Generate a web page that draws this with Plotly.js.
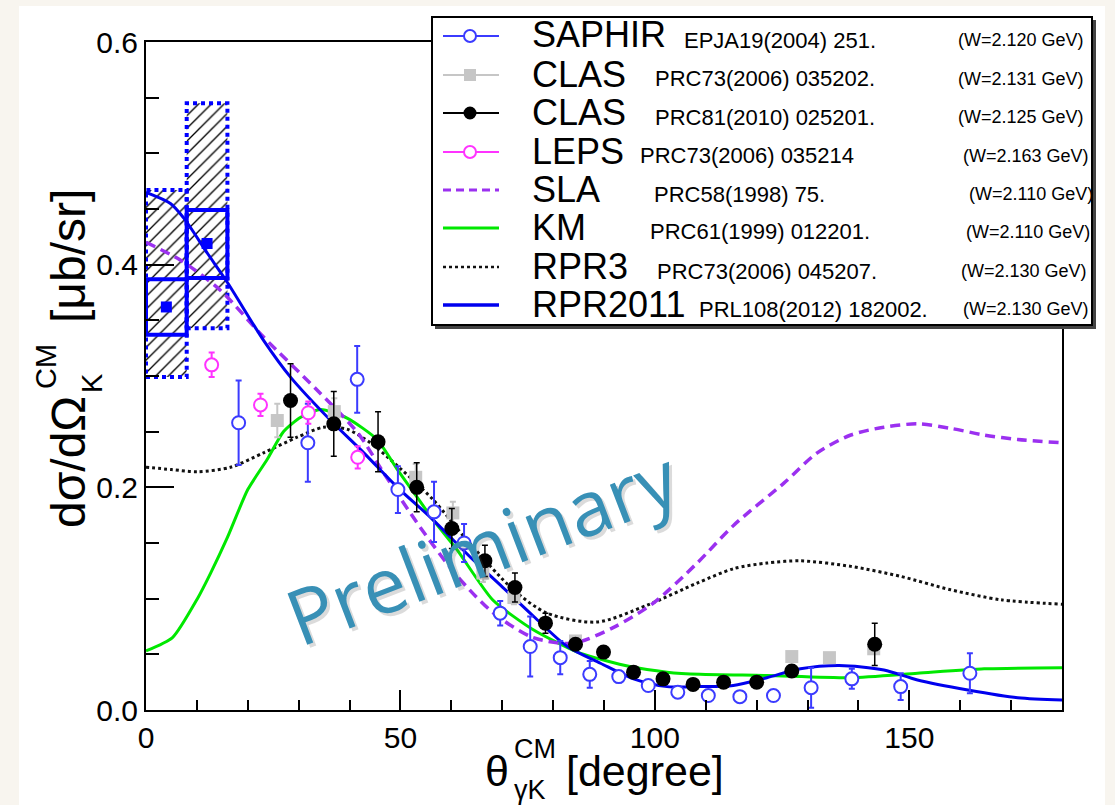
<!DOCTYPE html>
<html><head><meta charset="utf-8">
<script src="https://cdn.plot.ly/plotly-3.0.1.min.js"></script>
<style>
html,body{margin:0;padding:0;background:#f8f5ef;width:1115px;height:805px;overflow:hidden;}
#chart{position:absolute;left:19px;top:6px;width:1086px;height:799px;background:#fff;}
</style></head><body><div id="chart"></div>
<script>
// ---------------- data ----------------
const saphirX = [18.2, 31.8, 41.5, 49.5, 56.6, 62.5, 69.6, 75.5, 81.4, 87.2, 92.9, 98.7, 104.5, 110.5, 116.7, 123.3, 130.7, 138.7, 148.3, 161.9];
const saphirY = [0.258, 0.240, 0.297, 0.198, 0.178, 0.150, 0.087, 0.057, 0.047, 0.032, 0.030, 0.022, 0.016, 0.013, 0.012, 0.013, 0.020, 0.028, 0.021, 0.033];
const saphirE = [0.038, 0.035, 0.030, 0.021, 0.027, 0.017, 0.011, 0.027, 0.015, 0.012, 0.005, 0.004, 0.004, 0.004, 0.003, 0.003, 0.018, 0.009, 0.012, 0.018];

const clas06X = [25.8, 37.0, 53.0, 60.3, 66.2, 72.3, 84.4, 126.9, 134.3, 143.0];
const clas06Y = [0.260, 0.268, 0.209, 0.177, 0.123, 0.101, 0.062, 0.048, 0.047, 0.055];
const clas06E = [0.015, 0.012, 0.012, 0.010, 0.008, 0.006, 0.004, 0.003, 0.003, 0.004];

const clas10X = [28.4, 36.9, 45.6, 53.2, 60.1, 66.6, 72.5, 78.5, 84.4, 89.9, 95.8, 101.6, 107.5, 113.5, 120.0, 126.9, 143.2];
const clas10Y = [0.278, 0.257, 0.241, 0.200, 0.163, 0.134, 0.110, 0.078, 0.059, 0.052, 0.034, 0.028, 0.023, 0.025, 0.025, 0.035, 0.059];
const clas10E = [0.033, 0.029, 0.027, 0.022, 0.018, 0.014, 0.013, 0.009, 0.005, 0.004, 0.003, 0.003, 0.003, 0.003, 0.003, 0.004, 0.019];

const lepsX = [12.9, 22.5, 31.9, 41.6];
const lepsY = [0.310, 0.274, 0.267, 0.227];
const lepsE = [0.011, 0.010, 0.010, 0.010];

// RPR2011-fit data points with stat (inner) and syst (outer) boxes
const boxX = [4, 12];
const boxY = [0.362, 0.419];
const boxBinLo = [0, 8];
const boxBinHi = [8, 16];
const boxStatLo = [0.337, 0.388];
const boxStatHi = [0.387, 0.449];
const boxSysLo = [0.299, 0.343];
const boxSysHi = [0.467, 0.545];

const rpr2011X = [0, 4.8, 7.4, 12.1, 16, 23.1, 28.4, 36.3, 42.8, 49.4, 55.9, 63.8, 69.7, 76.2, 82.8, 89.3, 95.8, 102.4, 108.9, 115.4, 122, 128.6, 136.2, 145, 151.6, 161.5, 171.3, 180];
const rpr2011Y = [0.465, 0.455, 0.442, 0.410, 0.384, 0.332, 0.299, 0.260, 0.231, 0.200, 0.173, 0.137, 0.112, 0.084, 0.057, 0.042, 0.028, 0.021, 0.021, 0.022, 0.029, 0.037, 0.040, 0.036, 0.027, 0.018, 0.011, 0.009];

const slaX = [0, 6.8, 14.6, 23.1, 33.7, 41.6, 46.7, 53.9, 61.2, 68.3, 76.1, 83.9, 91.8, 99.7, 108.3, 115.5, 125.4, 131.9, 138.5, 145, 151.6, 158.1, 164.7, 171.3, 180];
const slaY = [0.420, 0.404, 0.377, 0.335, 0.287, 0.249, 0.213, 0.164, 0.120, 0.087, 0.065, 0.060, 0.074, 0.096, 0.132, 0.166, 0.204, 0.231, 0.247, 0.254, 0.257, 0.253, 0.247, 0.243, 0.240];

const kmX = [0, 5.2, 10.1, 12.7, 16, 20, 23.8, 27, 30.4, 34.3, 39.6, 45.4, 49.4, 53.3, 56.4, 61.1, 68.1, 76.1, 85.3, 95.1, 102.4, 108.9, 122, 138.5, 151.6, 164.7, 180];
const kmY = [0.053, 0.065, 0.100, 0.123, 0.155, 0.198, 0.225, 0.250, 0.263, 0.270, 0.262, 0.243, 0.216, 0.191, 0.171, 0.144, 0.099, 0.072, 0.051, 0.039, 0.034, 0.032, 0.031, 0.029, 0.033, 0.037, 0.038];

const rpr3X = [0, 5, 10.1, 16.6, 23.1, 29.7, 34.9, 39.6, 44.1, 48, 56.4, 63, 72.2, 78.8, 88.6, 98.4, 108.3, 115.5, 122, 128.6, 138.5, 148.3, 158.1, 168, 180];
const rpr3Y = [0.218, 0.216, 0.214, 0.218, 0.231, 0.245, 0.254, 0.252, 0.240, 0.225, 0.189, 0.153, 0.108, 0.087, 0.079, 0.094, 0.114, 0.127, 0.132, 0.134, 0.129, 0.120, 0.108, 0.099, 0.095];

// legend texts
const legNames = ['SAPHIR', 'CLAS', 'CLAS', 'LEPS', 'SLA', 'KM', 'RPR3', 'RPR2011'];
const legRefs = ['EPJA19(2004) 251.', 'PRC73(2006) 035202.', 'PRC81(2010) 025201.', 'PRC73(2006) 035214', 'PRC58(1998) 75.', 'PRC61(1999) 012201.', 'PRC73(2006) 045207.', 'PRL108(2012) 182002.'];
const legW = ['(W=2.120 GeV)', '(W=2.131 GeV)', '(W=2.125 GeV)', '(W=2.163 GeV)', '(W=2.110 GeV)', '(W=2.110 GeV)', '(W=2.130 GeV)', '(W=2.130 GeV)'];

// ---------------- styling ----------------
const FONT = 'Liberation Sans, Arial, Helvetica, sans-serif';
const C_SAPHIR = '#3b3bff', C_CLAS06 = '#c6c6c6', C_CLAS10 = '#000000', C_LEPS = '#ff33ff';
const C_SLA = '#9b30f0', C_KM = '#00e800', C_RPR3 = '#111111', C_RPR = '#0000ee', C_BOX = '#0000ff';

// page-pixel -> paper helpers (plot area: x 146..1062, y 42..710 in page pixels)
const PL = 146, PR = 1062, PT = 42, PB = 710;
const px = X => (X - PL) / (PR - PL);
const py = Y => (PB - Y) / (PB - PT);

const traces = [];
// systematic (outer, hatched, dotted) boxes
for (let i = 0; i < boxX.length; i++) {
  traces.push({
    x: [boxBinLo[i], boxBinHi[i], boxBinHi[i], boxBinLo[i], boxBinLo[i]],
    y: [boxSysLo[i], boxSysLo[i], boxSysHi[i], boxSysHi[i], boxSysLo[i]],
    mode: 'lines', fill: 'toself', fillcolor: 'rgba(0,0,0,0)',
    fillpattern: {shape: '/', fgcolor: '#000', bgcolor: 'rgba(255,255,255,0)', size: 9, solidity: 0.15},
    line: {color: C_BOX, width: 4, dash: 'dot'}, hoverinfo: 'skip', showlegend: false
  });
}
// curves
traces.push({x: rpr3X, y: rpr3Y, mode: 'lines', line: {color: C_RPR3, width: 3, dash: 'dot', shape: 'spline', smoothing: 0.8}, showlegend: false});
traces.push({x: kmX, y: kmY, mode: 'lines', line: {color: C_KM, width: 3, shape: 'spline', smoothing: 0.6}, showlegend: false});
traces.push({x: slaX, y: slaY, mode: 'lines', line: {color: C_SLA, width: 3.5, dash: '10px,6px', shape: 'spline', smoothing: 0.8}, showlegend: false});
// statistical (inner) boxes
for (let i = 0; i < boxX.length; i++) {
  traces.push({
    x: [boxBinLo[i], boxBinHi[i], boxBinHi[i], boxBinLo[i], boxBinLo[i]],
    y: [boxStatLo[i], boxStatLo[i], boxStatHi[i], boxStatHi[i], boxStatLo[i]],
    mode: 'lines', line: {color: C_BOX, width: 4}, hoverinfo: 'skip', showlegend: false
  });
}
traces.push({x: rpr2011X, y: rpr2011Y, mode: 'lines', line: {color: C_RPR, width: 3, shape: 'spline', smoothing: 0.8}, showlegend: false});
traces.push({x: boxX, y: boxY, mode: 'markers', marker: {symbol: 'square', size: 11, color: C_BOX}, showlegend: false});
// data
traces.push({x: clas06X, y: clas06Y, mode: 'markers', marker: {symbol: 'square', size: 13, color: C_CLAS06},
  error_y: {type: 'data', array: clas06E, visible: true, color: C_CLAS06, thickness: 2, width: 3}, showlegend: false});
traces.push({x: saphirX, y: saphirY, mode: 'markers', marker: {symbol: 'circle', size: 13, color: '#ffffff', line: {color: C_SAPHIR, width: 2}},
  error_y: {type: 'data', array: saphirE, visible: true, color: C_SAPHIR, thickness: 2, width: 3}, showlegend: false});
traces.push({x: lepsX, y: lepsY, mode: 'markers', marker: {symbol: 'circle', size: 13, color: '#ffffff', line: {color: C_LEPS, width: 2}},
  error_y: {type: 'data', array: lepsE, visible: true, color: C_LEPS, thickness: 2, width: 3}, showlegend: false});
traces.push({x: clas10X, y: clas10Y, mode: 'markers', marker: {symbol: 'circle', size: 15, color: C_CLAS10},
  error_y: {type: 'data', array: clas10E, visible: true, color: C_CLAS10, thickness: 1.5, width: 3}, showlegend: false});

// ---------------- legend (drawn) ----------------
const rowY = [36, 75, 113, 152, 190, 228, 267, 305];
const refX = [682, 653, 653, 638, 652, 648, 655, 697];
const wX = [956, 956, 956, 961, 967, 964, 959, 961];
const legStyle = [
  {c: C_SAPHIR, w: 2, dash: 'solid', m: 'open'},
  {c: C_CLAS06, w: 2, dash: 'solid', m: 'square'},
  {c: C_CLAS10, w: 2, dash: 'solid', m: 'dot'},
  {c: C_LEPS, w: 2, dash: 'solid', m: 'open'},
  {c: C_SLA, w: 3, dash: '8px,5px', m: null},
  {c: C_KM, w: 3, dash: 'solid', m: null},
  {c: C_RPR3, w: 2.5, dash: 'dot', m: null},
  {c: C_RPR, w: 3.5, dash: 'solid', m: null}
];
const shapes = [
  {type: 'rect', xref: 'paper', yref: 'paper', x0: px(435), x1: px(1096), y0: py(20), y1: py(329), fillcolor: '#444', line: {width: 0}, layer: 'above'},
  {type: 'rect', xref: 'paper', yref: 'paper', x0: px(432), x1: px(1092), y0: py(17), y1: py(325), fillcolor: '#fff', line: {color: '#000', width: 2}, layer: 'above'}
];
const annotations = [];
function ann(X, Y, text, size, opts) {
  return Object.assign({xref: 'paper', yref: 'paper', x: px(X), y: py(Y), xanchor: 'center', yanchor: 'middle',
    showarrow: false, text: text, font: {family: FONT, size: size, color: '#000'}}, opts || {});
}
for (let i = 0; i < legNames.length; i++) {
  const s = legStyle[i];
  shapes.push({type: 'line', xref: 'paper', yref: 'paper', x0: px(443), x1: px(499), y0: py(rowY[i]), y1: py(rowY[i]),
    line: {color: s.c, width: s.w, dash: s.dash}, layer: 'above'});
  if (s.m) {
    const r = s.m === 'dot' ? 6.5 : 6;
    shapes.push({type: s.m === 'square' ? 'rect' : 'circle', xref: 'paper', yref: 'paper', xsizemode: 'pixel', ysizemode: 'pixel',
      xanchor: px(470), yanchor: py(rowY[i]), x0: -r, x1: r, y0: -r, y1: r,
      fillcolor: s.m === 'open' ? '#fff' : s.c, line: {color: s.c, width: s.m === 'open' ? 2 : 0}, layer: 'above'});
  }
  annotations.push(ann(530, rowY[i] - 1, legNames[i], 36, {xanchor: 'left'}));
  annotations.push(ann(refX[i], rowY[i] + 4, legRefs[i], 22, {xanchor: 'left'}));
  annotations.push(ann(wX[i], rowY[i] + 4, legW[i], 18, {xanchor: 'left'}));
}

// axis titles (stacked sub/superscripts)
annotations.push(ann(497, 771, 'θ', 43));
annotations.push(ann(512, 749, 'CM', 27, {xanchor: 'left'}));
annotations.push(ann(512, 790, 'γK', 27, {xanchor: 'left'}));
annotations.push(ann(564, 771, '[degree]', 43, {xanchor: 'left'}));

annotations.push(ann(68, 462, 'dσ/dΩ', 48, {textangle: -90}));
annotations.push(ann(46, 367, 'CM', 29, {textangle: -90}));
annotations.push(ann(92, 383, 'K', 29, {textangle: -90}));
annotations.push(ann(68, 256, '[μb/sr]', 48, {textangle: -90}));

// watermark
annotations.push({xref: 'paper', yref: 'paper', x: px(484), y: py(549), xanchor: 'center', yanchor: 'middle', textangle: -21, showarrow: false, text: 'Preliminary',
  font: {family: 'Open Sans, sans-serif', size: 77, color: 'rgba(90,90,90,0.22)'}});
annotations.push({xref: 'paper', yref: 'paper', x: px(481), y: py(546), xanchor: 'center', yanchor: 'middle', textangle: -21, showarrow: false, text: 'Preliminary',
  font: {family: 'Open Sans, sans-serif', size: 77, color: '#3890b6'}});

const axisCommon = {showgrid: false, zeroline: false, showline: true, linecolor: '#000', linewidth: 2, mirror: true,
  ticks: 'inside', tickcolor: '#000', tickwidth: 2, tickfont: {family: FONT, size: 30, color: '#000'}};

const layout = {
  width: 1086, height: 799,
  margin: {l: PL - 19, r: 1105 - PR, t: PT - 6, b: 805 - PB},
  paper_bgcolor: '#ffffff', plot_bgcolor: '#ffffff',
  showlegend: false,
  xaxis: Object.assign({}, axisCommon, {range: [0, 180], tick0: 0, dtick: 50, ticklen: 20,
    minor: {dtick: 10, ticklen: 10, tickwidth: 2, tickcolor: '#000', ticks: 'inside'}}),
  yaxis: Object.assign({}, axisCommon, {range: [0, 0.6], tick0: 0, dtick: 0.2, ticklen: 28, tickformat: '.1f',
    minor: {dtick: 0.05, ticklen: 13, tickwidth: 2, tickcolor: '#000', ticks: 'inside'}}),
  shapes: shapes,
  annotations: annotations
};

Plotly.newPlot('chart', traces, layout, {displayModeBar: false, staticPlot: true});
</script></body></html>
